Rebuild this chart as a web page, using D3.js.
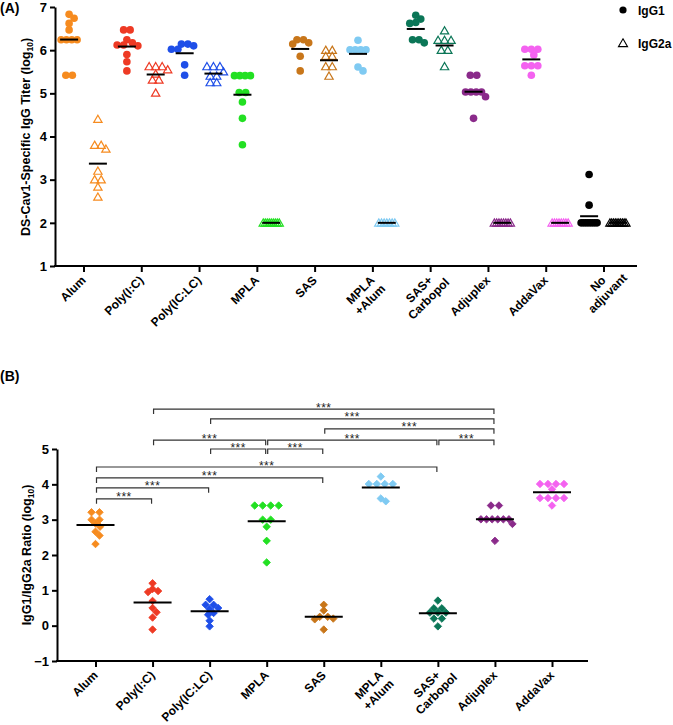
<!DOCTYPE html>
<html><head><meta charset="utf-8">
<script src="https://cdn.jsdelivr.net/npm/d3@7"></script>
<style>body{margin:0;background:#fff}svg{display:block}text{font-family:"Liberation Sans",Arial,sans-serif}</style>
</head><body><svg id="c" width="673" height="725"></svg>
<script>
// ---------- DATA ----------
const categoriesA = ["Alum","Poly(I:C)","Poly(IC:LC)","MPLA","SAS","MPLA\n+Alum","SAS+\nCarbopol","Adjuplex","AddaVax","No\nadjuvant"];
const categoriesB = ["Alum","Poly(I:C)","Poly(IC:LC)","MPLA","SAS","MPLA\n+Alum","SAS+\nCarbopol","Adjuplex","AddaVax"];
const groupColors = ["#f68b1f","#ee3a24","#1f4fe8","#22e022","#c8761a","#7fcaf2","#0b7657","#8a2a8a","#f462f0","#000000"];
const yTicksA = [1,2,3,4,5,6,7];
const yTicksB = [-1,0,1,2,3,4,5];
const seriesNames = ["IgG1","IgG2a"];

const igg1 = [
  [6.83,6.74,6.62,6.47,6.24,6.24,6.24,6.24,5.42,5.42],
  [6.47,6.47,6.24,6.17,6.12,6.12,6.10,5.90,5.73,5.52],
  [6.14,6.14,6.10,6.02,6.02,5.66,5.42],
  [5.41,5.41,5.41,5.41,5.02,5.02,4.80,4.42,3.81],
  [6.24,6.24,6.17,6.14,5.86,5.52],
  [6.23,6.01,6.01,6.01,6.01,5.61,5.52],
  [6.81,6.72,6.64,6.62,6.24,6.24,6.17],
  [5.42,5.42,5.03,5.03,5.03,5.03,4.92,4.42],
  [6.02,6.02,6.02,5.89,5.64,5.64,5.64,5.42],
  [3.12,2.41,2,2,2,2,2,2,2,2]
];
const igg2a = [
  [4.40,3.80,3.80,3.71,3.20,3.00,3.00,2.83,2.60],
  [5.62,5.62,5.62,5.55,5.45,5.31,5.31,5.01],
  [5.62,5.62,5.62,5.50,5.40,5.40,5.25,5.25],
  [2,2,2,2,2,2,2,2,2],
  [6.00,6.00,5.86,5.86,5.62,5.62,5.40],
  [2,2,2,2,2,2,2],
  [6.45,6.23,6.23,6.23,6.00,6.00,5.62],
  [2,2,2,2,2,2,2,2],
  [2,2,2,2,2,2,2,2],
  [2,2,2,2,2,2,2,2,2,2]
];
const ratio = [
  [3.21,3.21,3.00,3.00,2.89,2.80,2.66,2.55,2.31],
  [1.20,1.04,0.98,0.95,0.70,0.50,0.38,0.23,-0.11],
  [0.75,0.59,0.59,0.50,0.47,0.36,0.31,0.14,-0.02],
  [3.40,3.40,3.40,3.40,3.00,3.00,2.80,2.40,1.79],
  [0.59,0.43,0.25,0.25,0.20,0.18,-0.11],
  [4.22,4.01,4.01,4.01,4.01,3.60,3.52],
  [0.71,0.49,0.49,0.37,0.37,0.37,0.20,0.20,-0.02],
  [3.40,3.40,3.01,3.01,3.01,3.01,3.01,3.01,2.88,2.40],
  [4.01,4.01,4.01,4.01,3.86,3.61,3.61,3.61,3.61,3.40]
];
// significance comparisons (group index a, b, bracket height in ratio units)
const compA = [1,2,4,1,3,6,2,3,0,0,0,0];
const compB = [7,7,7,3,6,7,3,4,6,4,2,1];
const compH = [6.13,5.85,5.57,5.25,5.25,5.25,5.0,5.0,4.49,4.18,3.90,3.59];
const compLabel = ["***","***","***","***","***","***","***","***","***","***","***","***"];

// ---------- HELPERS ----------
const svg = d3.select("#c");
const FONT = '"Liberation Sans",Arial,sans-serif';
const ctx = document.createElement("canvas").getContext("2d");
function textW(s, size) {
  let w = 0;
  try { ctx.font = `bold ${size}px "Liberation Sans", Arial, sans-serif`; w = ctx.measureText(s).width; } catch(e) {}
  return w > 0 ? w : s.length * size * 0.6;
}

function swarm(vals, yScale, d, maxW, coll) {
  const sorted = vals.slice().sort((a,b)=>b-a);
  const runs = d3.groups(sorted, v=>v);
  const placed = [], out = [];
  for (const [v, arr] of runs) {
    const n = arr.length, y = yScale(v);
    const s = n>1 ? Math.min(d, maxW/(n-1)) : 0;
    const offs = arr.map((_,i)=>(i-(n-1)/2)*s);
    let shift = 0;
    for (let k=0;k<400;k++){
      const c = k===0?0:(k%2?1:-1)*Math.ceil(k/2)*0.5;
      const ok = offs.every(o=>placed.every(p=>Math.hypot(p.x-(o+c), p.y-y) >= coll));
      if (ok){shift=c;break;}
    }
    offs.forEach(o=>{placed.push({x:o+shift,y}); out.push({v, dx:o+shift, y});});
  }
  return out;
}

function xLabels(g, scale, cats, yTop) {
  cats.forEach((c,i)=>{
    const lines = c.split("\n");
    const w1 = textW(lines[0], 12);
    const t = g.append("text")
      .attr("transform",`translate(${scale(i)+3},${yTop}) rotate(-45)`)
      .attr("text-anchor","middle").attr("font-weight","bold")
      .attr("font-size",12).attr("fill","#000");
    lines.forEach((ln,j)=>t.append("tspan").attr("x",-w1/2).attr("dy", j===0?0:13.5).text(ln));
  });
}

function yLabel(g, x, y, main, sub) {
  const t = g.append("text").attr("transform",`translate(${x},${y}) rotate(-90)`)
    .attr("text-anchor","middle").attr("font-weight","bold").attr("font-size",12.5);
  t.append("tspan").text(main);
  t.append("tspan").attr("font-size",8.5).attr("dy",3).text(sub);
  t.append("tspan").attr("dy",-3).text(")");
}

function styleAxis(g) {
  g.select(".domain").attr("stroke","#000").attr("stroke-width",2);
  g.selectAll(".tick line").attr("stroke","#000").attr("stroke-width",2);
  g.selectAll(".tick text").attr("font-family",FONT).attr("font-weight","bold").attr("font-size",13).attr("fill","#000");
}

// ---------- PANEL A ----------
const xA = d3.scalePoint().domain(d3.range(categoriesA.length)).range([83.5, 603.5]);
const yA = d3.scaleLinear().domain([1,7]).range([266,7]);
const gA = svg.append("g");
const sub = 14.4;

gA.append("g").attr("transform","translate(55,0)")
  .call(d3.axisLeft(yA).tickValues(yTicksA).tickSize(5).tickSizeOuter(0).tickFormat(d3.format("d")).tickPadding(3))
  .call(styleAxis);
const axA = gA.append("g").attr("transform","translate(0,266)")
  .call(d3.axisBottom(xA).tickSize(6).tickSizeOuter(0).tickFormat(""));
axA.select(".domain").remove();
axA.selectAll(".tick line").attr("stroke","#000").attr("stroke-width",2);
gA.append("line").attr("x1",54).attr("x2",637).attr("y1",266).attr("y2",266).attr("stroke","#000").attr("stroke-width",2);
xLabels(gA, xA, categoriesA, 281);

const tri = d3.symbol(d3.symbolTriangle, 30)();
categoriesA.forEach((c,i)=>{
  const col = groupColors[i];
  const cx1 = xA(i)-sub, cx2 = xA(i)+sub;
  swarm(igg1[i], yA, 6.5, 16, 6).forEach(p=>{
    gA.append("circle").attr("cx",cx1+p.dx).attr("cy",p.y).attr("r",3.8).attr("fill",col);
  });
  swarm(igg2a[i], yA, 6.5, 16, 6).forEach(p=>{
    gA.append("path").attr("d",tri).attr("transform",`translate(${cx2+p.dx},${p.y+0.8})`)
      .attr("fill","none").attr("stroke",col).attr("stroke-width",1.2);
  });
  const m1 = d3.mean(igg1[i]), m2 = d3.mean(igg2a[i]);
  gA.append("line").attr("x1",cx1-9).attr("x2",cx1+9).attr("y1",yA(m1)).attr("y2",yA(m1)).attr("stroke","#000").attr("stroke-width",2);
  gA.append("line").attr("x1",cx2-9).attr("x2",cx2+9).attr("y1",yA(m2)).attr("y2",yA(m2)).attr("stroke","#000").attr("stroke-width",2);
});

yLabel(gA, 30, 137, "DS-Cav1-Specific IgG Titer (log", "10");
gA.append("text").attr("x",0).attr("y",13).attr("font-weight","bold").attr("font-size",14).text("(A)");

// legend
const lg = gA.append("g");
lg.append("circle").attr("cx",623).attr("cy",10).attr("r",3.6).attr("fill","#000");
lg.append("text").attr("x",638).attr("y",14.5).attr("font-weight","bold").attr("font-size",12).text(seriesNames[0]);
lg.append("path").attr("d",d3.symbol(d3.symbolTriangle,36)()).attr("transform","translate(623,44)")
  .attr("fill","none").attr("stroke","#000").attr("stroke-width",1.1);
lg.append("text").attr("x",638).attr("y",48).attr("font-weight","bold").attr("font-size",12).text(seriesNames[1]);

// ---------- PANEL B ----------
const xB = d3.scalePoint().domain(d3.range(categoriesB.length)).range([95.5, 552]);
const yB = d3.scaleLinear().domain([-1,5]).range([661,449]);
const gB = svg.append("g");
gB.append("g").attr("transform","translate(57,0)")
  .call(d3.axisLeft(yB).tickValues(yTicksB).tickSize(5).tickSizeOuter(0).tickFormat(d3.format("d")).tickPadding(3))
  .call(styleAxis);
const axB = gB.append("g").attr("transform","translate(0,661)")
  .call(d3.axisBottom(xB).tickSize(6).tickSizeOuter(0).tickFormat(""));
axB.select(".domain").remove();
axB.selectAll(".tick line").attr("stroke","#000").attr("stroke-width",2);
gB.append("line").attr("x1",56).attr("x2",588).attr("y1",661).attr("y2",661).attr("stroke","#000").attr("stroke-width",2);
xLabels(gB, xB, categoriesB, 676);

const diamond = d3.symbol(d3.symbolSquare, 28)();
categoriesB.forEach((c,i)=>{
  const col = groupColors[i];
  swarm(ratio[i], yB, 8, 28, 5.5).forEach(p=>{
    gB.append("path").attr("d",diamond).attr("transform",`translate(${xB(i)+p.dx},${p.y}) rotate(45)`)
      .attr("fill",col).attr("stroke",col).attr("stroke-width",0.8).attr("stroke-linejoin","round");
  });
  const m = d3.mean(ratio[i]);
  gB.append("line").attr("x1",xB(i)-19).attr("x2",xB(i)+19).attr("y1",yB(m)).attr("y2",yB(m)).attr("stroke","#000").attr("stroke-width",2);
});

// brackets
compA.forEach((a,k)=>{
  const b = compB[k], y = yB(compH[k]);
  const x1 = xB(a)+1, x2 = xB(b)-1;
  gB.append("path").attr("d",`M${x1},${y+5}V${y}H${x2}V${y+5}`).attr("fill","none")
    .attr("stroke","#333").attr("stroke-width",1.2);
  gB.append("text").attr("x",(x1+x2)/2).attr("y",y+2.5).attr("text-anchor","middle")
    .attr("font-size",12).attr("letter-spacing",0.5).attr("fill","#222").text(compLabel[k]);
});

yLabel(gB, 31, 555, "IgG1/IgG2a Ratio (log", "10");
gB.append("text").attr("x",0).attr("y",381).attr("font-weight","bold").attr("font-size",14).text("(B)");
</script></body></html>
